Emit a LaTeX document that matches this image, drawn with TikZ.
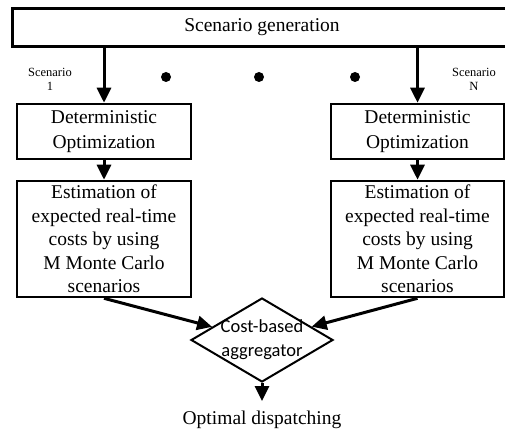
\documentclass[tikz,border=0pt]{standalone}
\usepackage{fontspec}
\setmainfont{Liberation Serif}
\newfontfamily\calfont{Carlito}
\usetikzlibrary{positioning,shapes.geometric,arrows.meta}

\begin{document}
\begin{tikzpicture}[x=1pt,y=-1pt,
    box/.style={draw,line width=2.6pt,align=center,inner sep=0pt,
      minimum width=174pt,font=\fontsize{19.5}{23.5}\selectfont},
    flow/.style={line width=3pt,-{Triangle[length=15pt,width=14pt]}},
    scen/.style={align=center,inner sep=0pt,font=\fontsize{12.5}{14}\selectfont}]
  \useasboundingbox (0,0) rectangle (505,430);
  \clip (0,0) rectangle (505,430);
  % generation (box runs off the right side)
  \node [box,draw=none,minimum width=496pt,minimum height=35pt] at (262,27.5) (gen)
    {Scenario generation};
  \draw [line width=2.6pt]
    ([xshift=30pt]gen.north east) -- (gen.north west)
    -- (gen.south west) -- ([xshift=30pt]gen.south east);
  % optimization
  \node [box,font=\fontsize{19.5}{25}\selectfont,minimum height=55pt] at (104,131.5) (optl)
    {Deterministic\\Optimization};
  \node [box,font=\fontsize{19.5}{25}\selectfont,minimum width=173pt,minimum height=55pt]
    at (417.5,131.5) (optr) {Deterministic\\Optimization};
  % estimation
  \node [box,minimum height=116pt] at (104,239) (estl)
    {Estimation of\\expected real-time\\costs by using\\M Monte Carlo\\scenarios};
  \node [box,minimum width=173pt,minimum height=116pt] at (417.5,239) (estr)
    {Estimation of\\expected real-time\\costs by using\\M Monte Carlo\\scenarios};
  % aggregator
  \node [diamond,draw,line width=2pt,inner sep=0pt,
      minimum width=142pt,minimum height=84pt,
      label={[align=center,font=\calfont\fontsize{18.5}{24}\selectfont]center:Cost-based\\aggregator}]
    at (262,340) (agg) {};
  \node [anchor=north,inner xsep=0pt,inner ysep=9.5pt,font=\fontsize{19.5}{23.5}\selectfont]
    at (262,401) (out) {Optimal dispatching};
  % scenarios
  \node [scen] at (50,79) (scen1) {Scenario\\1};
  \node [scen] at (474,79) (scenN) {Scenario\\N};
  \foreach \x [count=\i] in {166,259,355}
    \fill (\x,77) circle (5pt) coordinate (dot\i);
  % arrows
  \draw [flow] (optl.north |- gen.south) -- (optl.north);
  \draw [flow] (optr.north |- gen.south) -- (optr.north);
  \draw [flow] (optl) -- (estl);
  \draw [flow] (optr) -- (estr);
  \draw [flow] (estl.south) -- (agg);
  \draw [flow] (estr.south) -- (agg);
  \draw [flow] (agg.south) -- (out.north);
\end{tikzpicture}
\end{document}
